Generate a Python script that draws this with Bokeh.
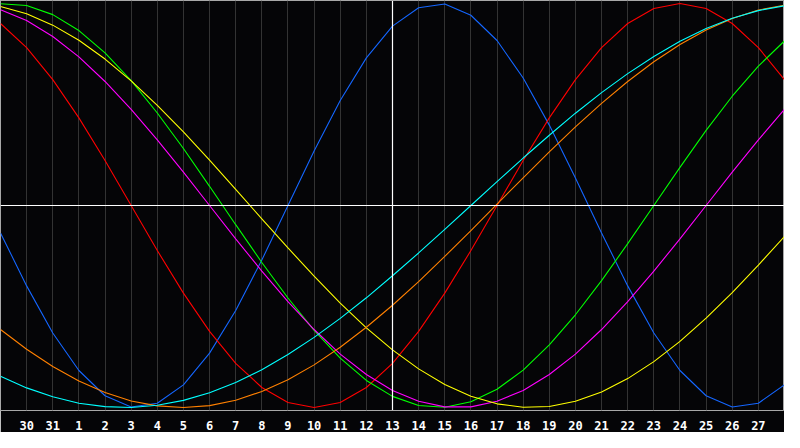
from bokeh.plotting import figure
from bokeh.models import FixedTicker, Span
from bokeh.embed import file_html
from bokeh.resources import INLINE

# Days shown (left edge = 29th of previous month, right edge = 28th)
days = [29, 30, 31, 1, 2, 3, 4, 5, 6, 7, 8, 9, 10, 11, 12, 13, 14, 15, 16,
        17, 18, 19, 20, 21, 22, 23, 24, 25, 26, 27, 28]
today = 13

# Cycle values (-1 .. 1) read per day
physical = [-0.136, -0.398, -0.631, -0.817, -0.942, -0.998, -0.979, -0.888, -0.731, -0.520,
            -0.270, 0.000, 0.270, 0.520, 0.731, 0.888, 0.979, 0.998, 0.942, 0.817,
            0.631, 0.398, 0.136, -0.136, -0.398, -0.631, -0.817, -0.942, -0.998, -0.979, -0.888]
emotional = [0.901, 0.782, 0.623, 0.434, 0.223, 0.000, -0.223, -0.434, -0.623, -0.782,
             -0.901, -0.975, -1.000, -0.975, -0.901, -0.782, -0.623, -0.434, -0.223, 0.000,
             0.223, 0.434, 0.623, 0.782, 0.901, 0.975, 1.000, 0.975, 0.901, 0.782, 0.623]
intellectual = [0.999, 0.990, 0.945, 0.866, 0.756, 0.618, 0.458, 0.282, 0.095, -0.095,
                -0.282, -0.458, -0.618, -0.756, -0.866, -0.945, -0.990, -0.999, -0.972, -0.910,
                -0.815, -0.690, -0.541, -0.372, -0.189, 0.000, 0.189, 0.372, 0.541, 0.690, 0.815]
intuitive = [0.969, 0.916, 0.837, 0.736, 0.614, 0.476, 0.325, 0.165, 0.000, -0.165,
             -0.325, -0.476, -0.614, -0.736, -0.837, -0.916, -0.969, -0.997, -0.997, -0.969,
             -0.916, -0.837, -0.736, -0.614, -0.476, -0.325, -0.165, 0.000, 0.165, 0.325, 0.476]
aesthetic = [0.985, 0.949, 0.893, 0.818, 0.725, 0.617, 0.496, 0.364, 0.225, 0.080,
             -0.066, -0.210, -0.350, -0.483, -0.606, -0.715, -0.809, -0.886, -0.944, -0.982,
             -0.999, -0.995, -0.969, -0.923, -0.857, -0.773, -0.673, -0.558, -0.431, -0.295, -0.153]
awareness = [-0.614, -0.712, -0.797, -0.869, -0.926, -0.968, -0.992, -1.000, -0.991, -0.964,
             -0.921, -0.863, -0.789, -0.702, -0.603, -0.494, -0.377, -0.252, -0.124, 0.007,
             0.137, 0.265, 0.389, 0.506, 0.614, 0.712, 0.797, 0.869, 0.926, 0.968, 0.992]
spiritual = [-0.846, -0.903, -0.947, -0.979, -0.996, -1.000, -0.989, -0.965, -0.927, -0.876,
             -0.813, -0.738, -0.653, -0.559, -0.457, -0.348, -0.235, -0.118, 0.000, 0.118,
             0.235, 0.348, 0.457, 0.559, 0.653, 0.738, 0.813, 0.876, 0.927, 0.965, 0.989]

series = [
    (physical, "#1466ff"),
    (emotional, "#ff0000"),
    (intellectual, "#00ff00"),
    (intuitive, "#ff00ff"),
    (aesthetic, "#ffff00"),
    (awareness, "#ff8000"),
    (spiritual, "#00ffff"),
]

xs = list(range(len(days)))
label_idx = xs[1:-1]

bg = "#050507"
p = figure(width=784, height=432, x_range=(xs[0], xs[-1]), y_range=(-1.015, 1.015),
           output_backend="svg", toolbar_location=None, y_axis_location=None,
           background_fill_color=bg, border_fill_color=bg,
           min_border_left=0, min_border_right=0, min_border_top=0, min_border_bottom=19)
p.outline_line_color = "#a8a8a8"
p.outline_line_width = 1

ticker = FixedTicker(ticks=label_idx)
p.xaxis.ticker = ticker
p.xaxis.major_label_overrides = {i: str(days[i]) for i in label_idx}
p.xaxis.axis_line_color = None
p.xaxis.major_tick_line_color = None
p.xaxis.minor_tick_line_color = None
p.xaxis.major_label_text_color = "white"
p.xaxis.major_label_text_font = "DejaVu Sans Mono"
p.xaxis.major_label_text_font_style = "bold"
p.xaxis.major_label_text_font_size = "12px"
p.xaxis.major_label_standoff = 4

p.xgrid.ticker = ticker
p.xgrid.grid_line_color = "#333333"
p.xgrid.grid_line_width = 1
p.ygrid.visible = False

p.add_layout(Span(location=0, dimension="width", line_color="white", line_width=1.2))
p.add_layout(Span(location=days.index(today), dimension="height", line_color="white", line_width=1.2))

for vals, col in series:
    p.line(xs, vals, line_color=col, line_width=1.1)

open("out.html", "w").write(file_html(p, INLINE))
